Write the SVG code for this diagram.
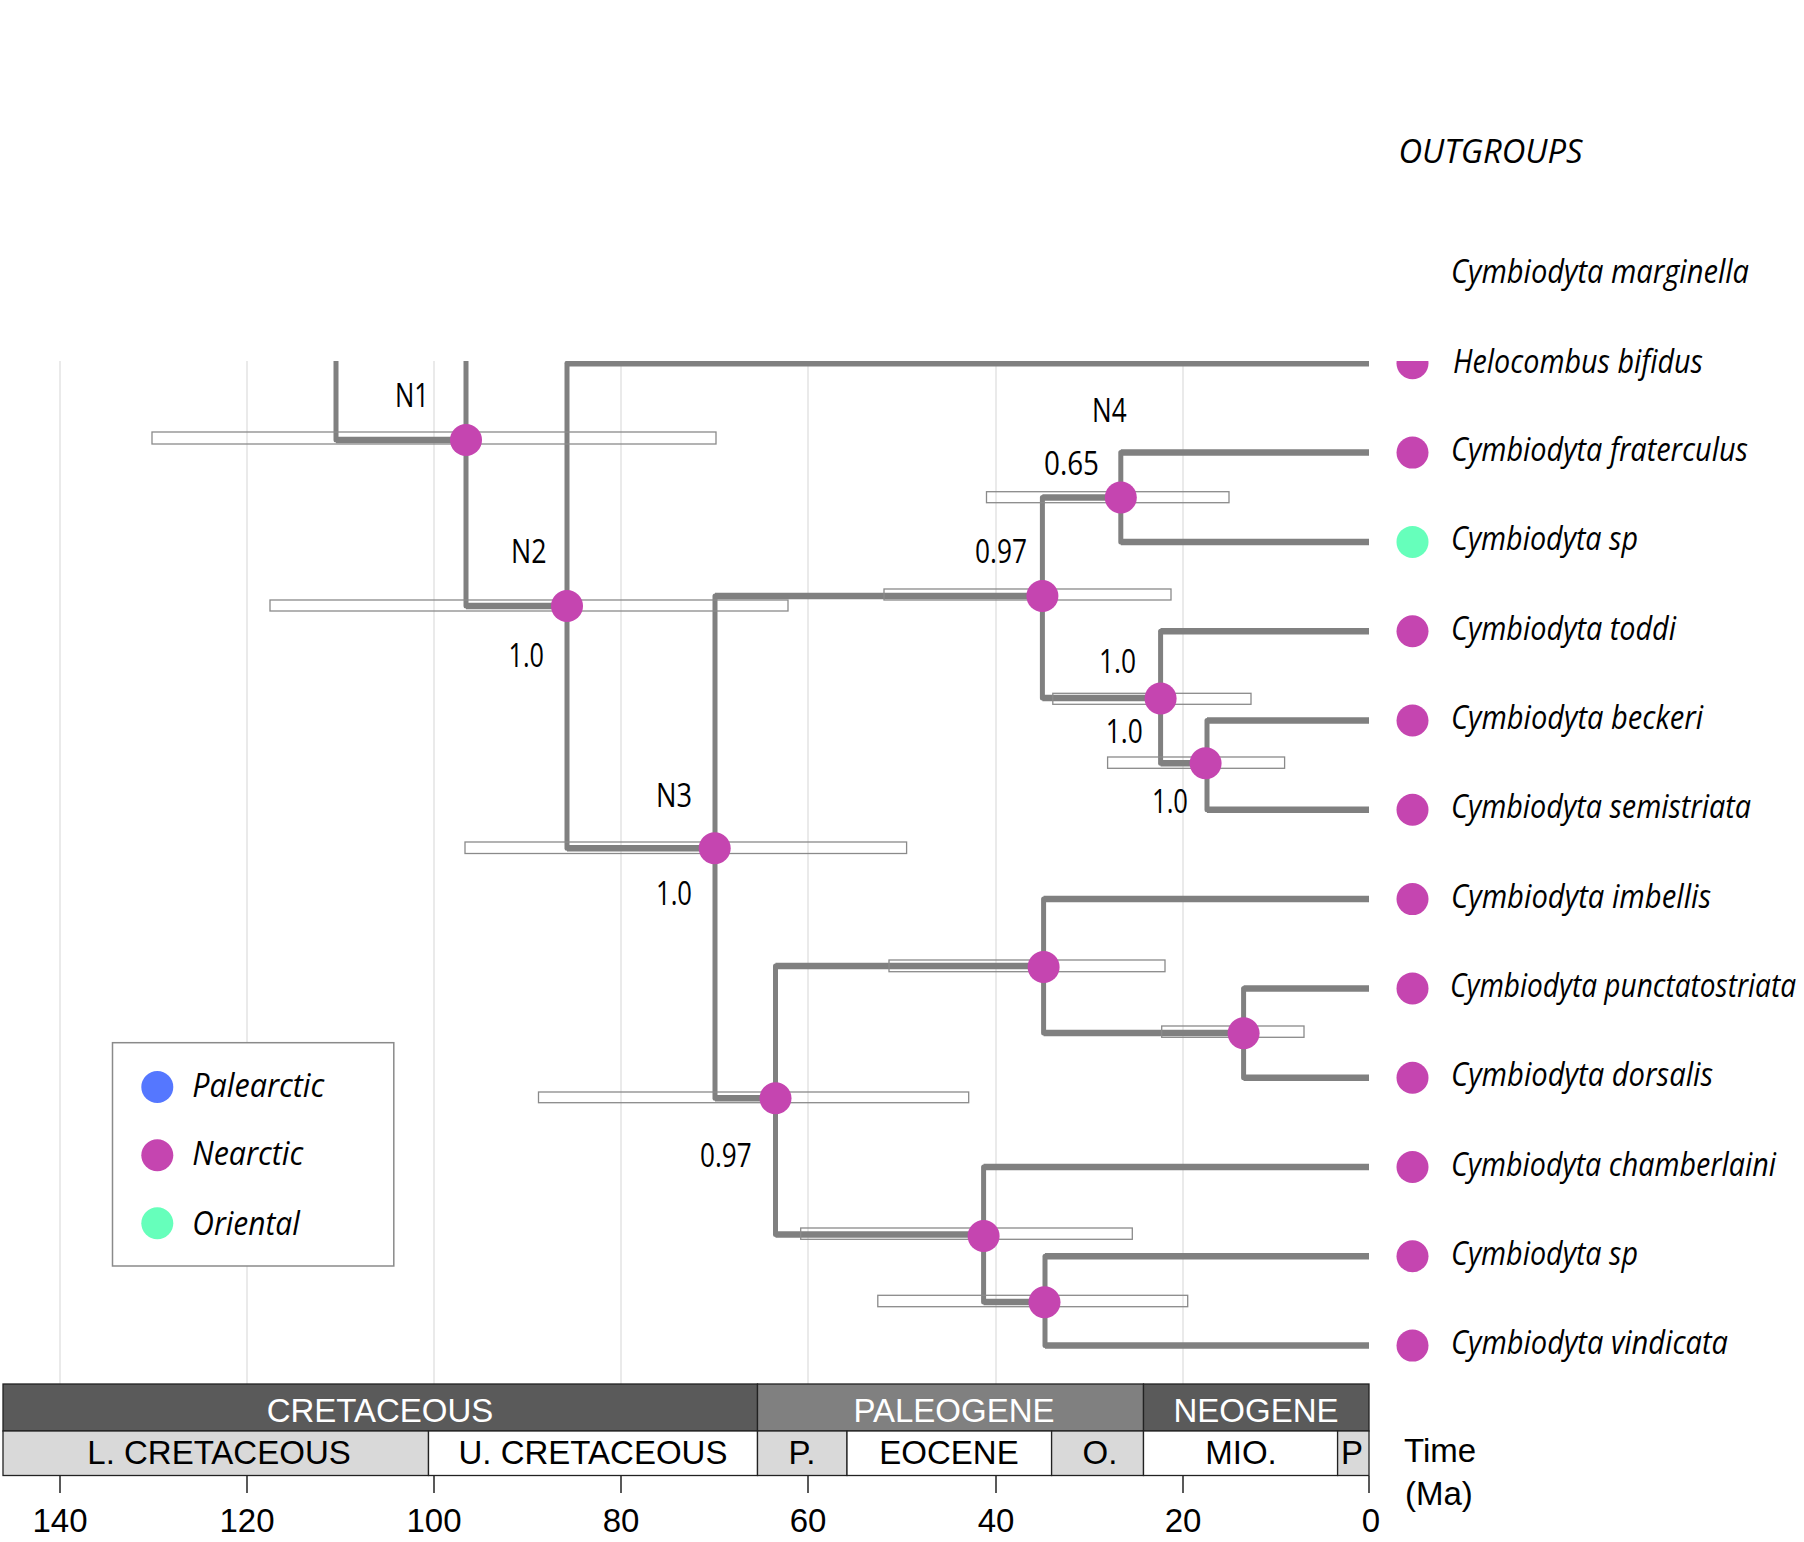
<svg xmlns="http://www.w3.org/2000/svg" width="1804" height="1542" viewBox="0 0 1804 1542">
<style>
.grid{stroke:#dcdcdc;stroke-width:1.2}
.v{stroke:#808080;stroke-width:5;stroke-linecap:round}
.h{stroke:#808080;stroke-width:6.5}
.ci{fill:none;stroke:#8a8a8a;stroke-width:1.3}
.ne{fill:#c545b0}
.pa{fill:#5577ff}
.or{fill:#66ffbb}
.sp{font-family:"Open Sans","Noto Sans",sans-serif;font-style:italic;font-size:33px;fill:#000}
.lb{font-family:"Open Sans","Noto Sans",sans-serif;font-size:32px;fill:#000}
.ts{font-family:"Liberation Sans",Arial,sans-serif;font-size:33px;text-anchor:middle}
.box{stroke:#222;stroke-width:1.3}
.tick{stroke:#222;stroke-width:1.5}
</style>
<defs>
<clipPath id="treeclip"><rect x="0" y="361" width="1804" height="1100"/></clipPath>
</defs>
<rect width="1804" height="1542" fill="#fff"/>

<g id="gridlines">
<line class="grid" x1="60" y1="361" x2="60" y2="1384"/>
<line class="grid" x1="247" y1="361" x2="247" y2="1384"/>
<line class="grid" x1="434" y1="361" x2="434" y2="1384"/>
<line class="grid" x1="621" y1="361" x2="621" y2="1384"/>
<line class="grid" x1="808" y1="361" x2="808" y2="1384"/>
<line class="grid" x1="996" y1="361" x2="996" y2="1384"/>
<line class="grid" x1="1183" y1="361" x2="1183" y2="1384"/>
</g>

<g id="connectors" clip-path="url(#treeclip)">
<line class="v" x1="336" y1="340" x2="336" y2="440"/>
<line class="h" x1="336" y1="440" x2="466" y2="440"/>
<line class="v" x1="466" y1="340" x2="466" y2="606"/>
<line class="h" x1="466" y1="606" x2="567" y2="606"/>
<line class="v" x1="567" y1="363.3" x2="567" y2="848.3"/>
<line class="h" x1="567" y1="363.3" x2="1369" y2="363.3"/>
<line class="h" x1="567" y1="848.3" x2="715" y2="848.3"/>
<line class="v" x1="715" y1="596" x2="715" y2="1098.3"/>
<line class="h" x1="715" y1="596" x2="1042.4" y2="596"/>
<line class="h" x1="715" y1="1098.3" x2="775.5" y2="1098.3"/>
<line class="v" x1="1042.4" y1="497.5" x2="1042.4" y2="698"/>
<line class="h" x1="1042.4" y1="497.5" x2="1120.8" y2="497.5"/>
<line class="h" x1="1042.4" y1="698" x2="1160.6" y2="698"/>
<line class="v" x1="1120.8" y1="452.6" x2="1120.8" y2="541.9"/>
<line class="h" x1="1120.8" y1="452.6" x2="1369" y2="452.6"/>
<line class="h" x1="1120.8" y1="541.9" x2="1369" y2="541.9"/>
<line class="v" x1="1160.6" y1="631.2" x2="1160.6" y2="763.3"/>
<line class="h" x1="1160.6" y1="631.2" x2="1369" y2="631.2"/>
<line class="h" x1="1160.6" y1="763.3" x2="1207" y2="763.3"/>
<line class="v" x1="1207" y1="720.5" x2="1207" y2="809.8"/>
<line class="h" x1="1207" y1="720.5" x2="1369" y2="720.5"/>
<line class="h" x1="1207" y1="809.8" x2="1369" y2="809.8"/>
<line class="v" x1="775.5" y1="966" x2="775.5" y2="1234.5"/>
<line class="h" x1="775.5" y1="966" x2="1043.6" y2="966"/>
<line class="h" x1="775.5" y1="1234.5" x2="983.6" y2="1234.5"/>
<line class="v" x1="1043.6" y1="899.1" x2="1043.6" y2="1033"/>
<line class="h" x1="1043.6" y1="899.1" x2="1369" y2="899.1"/>
<line class="h" x1="1043.6" y1="1033" x2="1243.6" y2="1033"/>
<line class="v" x1="1243.6" y1="988.4" x2="1243.6" y2="1077.7"/>
<line class="h" x1="1243.6" y1="988.4" x2="1369" y2="988.4"/>
<line class="h" x1="1243.6" y1="1077.7" x2="1369" y2="1077.7"/>
<line class="v" x1="983.6" y1="1167" x2="983.6" y2="1302"/>
<line class="h" x1="983.6" y1="1167" x2="1369" y2="1167"/>
<line class="h" x1="983.6" y1="1302" x2="1045" y2="1302"/>
<line class="v" x1="1045" y1="1256.3" x2="1045" y2="1345.6"/>
<line class="h" x1="1045" y1="1256.3" x2="1369" y2="1256.3"/>
<line class="h" x1="1045" y1="1345.6" x2="1369" y2="1345.6"/>
</g>

<g id="nodes" clip-path="url(#treeclip)">
<g id="N1"><rect class="ci" x="152" y="432" width="564" height="12"/><circle class="ne" cx="466" cy="440" r="16"/></g>
<g id="N2"><rect class="ci" x="270" y="600" width="518" height="11"/><circle class="ne" cx="567" cy="606" r="16"/></g>
<g id="N3"><rect class="ci" x="465" y="842" width="441.6" height="11.5"/><circle class="ne" cx="714.7" cy="848.3" r="16"/></g>
<g id="N5"><rect class="ci" x="884" y="589" width="287" height="11"/><circle class="ne" cx="1042.4" cy="596" r="16"/></g>
<g id="N4"><rect class="ci" x="986.5" y="491.7" width="242.5" height="11"/><circle class="ne" cx="1120.8" cy="497.5" r="16"/></g>
<g id="N6"><rect class="ci" x="1052.8" y="693.3" width="198.2" height="11"/><circle class="ne" cx="1160.6" cy="698.5" r="16"/></g>
<g id="N7"><rect class="ci" x="1107.6" y="757" width="177" height="11.3"/><circle class="ne" cx="1205.6" cy="763.3" r="16"/></g>
<g id="N8"><rect class="ci" x="538.5" y="1092" width="430.2" height="10.7"/><circle class="ne" cx="775.5" cy="1098.3" r="16"/></g>
<g id="N9"><rect class="ci" x="889" y="960" width="276" height="11.7"/><circle class="ne" cx="1043.6" cy="967" r="16"/></g>
<g id="N10"><rect class="ci" x="1161.7" y="1026" width="142.3" height="11.3"/><circle class="ne" cx="1243.6" cy="1033.3" r="16"/></g>
<g id="N11"><rect class="ci" x="800.7" y="1228" width="331.6" height="11.3"/><circle class="ne" cx="983.6" cy="1236" r="16"/></g>
<g id="N12"><rect class="ci" x="877.8" y="1295.3" width="309.9" height="11.4"/><circle class="ne" cx="1044.5" cy="1302.3" r="16"/></g>
<g id="tipdots">
<circle class="ne" cx="1412.5" cy="363.3" r="16"/>
<circle class="ne" cx="1412.5" cy="452.6" r="16"/>
<circle class="or" cx="1412.5" cy="541.9" r="16"/>
<circle class="ne" cx="1412.5" cy="631.2" r="16"/>
<circle class="ne" cx="1412.5" cy="720.5" r="16"/>
<circle class="ne" cx="1412.5" cy="809.8" r="16"/>
<circle class="ne" cx="1412.5" cy="899.1" r="16"/>
<circle class="ne" cx="1412.5" cy="988.4" r="16"/>
<circle class="ne" cx="1412.5" cy="1077.7" r="16"/>
<circle class="ne" cx="1412.5" cy="1167" r="16"/>
<circle class="ne" cx="1412.5" cy="1256.3" r="16"/>
<circle class="ne" cx="1412.5" cy="1345.6" r="16"/>
</g>
</g>

<g id="node-labels">
<text class="lb" x="395" y="406.7" textLength="34" lengthAdjust="spacingAndGlyphs">N1</text>
<text class="lb" x="511" y="563.3" textLength="35.5" lengthAdjust="spacingAndGlyphs">N2</text>
<text class="lb" x="508.6" y="667" textLength="35.4" lengthAdjust="spacingAndGlyphs">1.0</text>
<text class="lb" x="656" y="807" textLength="36" lengthAdjust="spacingAndGlyphs">N3</text>
<text class="lb" x="656" y="905" textLength="36" lengthAdjust="spacingAndGlyphs">1.0</text>
<text class="lb" x="1092" y="421.7" textLength="34.6" lengthAdjust="spacingAndGlyphs">N4</text>
<text class="lb" x="1044" y="475" textLength="55" lengthAdjust="spacingAndGlyphs">0.65</text>
<text class="lb" x="975" y="563" textLength="52" lengthAdjust="spacingAndGlyphs">0.97</text>
<text class="lb" x="1099" y="673" textLength="37" lengthAdjust="spacingAndGlyphs">1.0</text>
<text class="lb" x="1105.8" y="743" textLength="37" lengthAdjust="spacingAndGlyphs">1.0</text>
<text class="lb" x="1152" y="813" textLength="36" lengthAdjust="spacingAndGlyphs">1.0</text>
<text class="lb" x="700" y="1166.7" textLength="51.7" lengthAdjust="spacingAndGlyphs">0.97</text>
</g>

<g id="tip-labels">
<text class="sp" x="1398.5" y="163" textLength="184" lengthAdjust="spacingAndGlyphs">OUTGROUPS</text>
<text class="sp" x="1451" y="283" textLength="298" lengthAdjust="spacingAndGlyphs">Cymbiodyta marginella</text>
<text class="sp" x="1453" y="372.5" textLength="250" lengthAdjust="spacingAndGlyphs">Helocombus bifidus</text>
<text class="sp" x="1451" y="461" textLength="297" lengthAdjust="spacingAndGlyphs">Cymbiodyta fraterculus</text>
<text class="sp" x="1451" y="550.4" textLength="187" lengthAdjust="spacingAndGlyphs">Cymbiodyta sp</text>
<text class="sp" x="1451" y="639.7" textLength="225" lengthAdjust="spacingAndGlyphs">Cymbiodyta toddi</text>
<text class="sp" x="1451" y="729" textLength="252" lengthAdjust="spacingAndGlyphs">Cymbiodyta beckeri</text>
<text class="sp" x="1451" y="818.3" textLength="300" lengthAdjust="spacingAndGlyphs">Cymbiodyta semistriata</text>
<text class="sp" x="1451" y="907.6" textLength="260" lengthAdjust="spacingAndGlyphs">Cymbiodyta imbellis</text>
<text class="sp" x="1450" y="996.9" textLength="346" lengthAdjust="spacingAndGlyphs">Cymbiodyta punctatostriata</text>
<text class="sp" x="1451" y="1086.2" textLength="262" lengthAdjust="spacingAndGlyphs">Cymbiodyta dorsalis</text>
<text class="sp" x="1451" y="1175.5" textLength="325" lengthAdjust="spacingAndGlyphs">Cymbiodyta chamberlaini</text>
<text class="sp" x="1451" y="1264.8" textLength="187" lengthAdjust="spacingAndGlyphs">Cymbiodyta sp</text>
<text class="sp" x="1451" y="1354.1" textLength="277" lengthAdjust="spacingAndGlyphs">Cymbiodyta vindicata</text>
</g>

<g id="legend">
<rect x="112.5" y="1042.7" width="281.3" height="223.3" fill="#fff" stroke="#8a8a8a" stroke-width="1.5"/>
<circle class="pa" cx="157.3" cy="1087" r="16"/>
<circle class="ne" cx="157.3" cy="1155.3" r="16"/>
<circle class="or" cx="157.3" cy="1223.3" r="16"/>
<text class="sp" x="192.3" y="1096.7" textLength="132" lengthAdjust="spacingAndGlyphs">Palearctic</text>
<text class="sp" x="192.3" y="1165" textLength="111" lengthAdjust="spacingAndGlyphs">Nearctic</text>
<text class="sp" x="192.3" y="1235" textLength="107.5" lengthAdjust="spacingAndGlyphs">Oriental</text>
</g>

<g id="timescale">
<rect class="box" x="3" y="1384" width="754.5" height="47" fill="#5a5a5a"/>
<rect class="box" x="757.5" y="1384" width="386" height="47" fill="#808080"/>
<rect class="box" x="1143.5" y="1384" width="225.5" height="47" fill="#5a5a5a"/>
<rect class="box" x="3" y="1431" width="425.5" height="44.5" fill="#d9d9d9"/>
<rect class="box" x="428.5" y="1431" width="329" height="44.5" fill="#fff"/>
<rect class="box" x="757.5" y="1431" width="89.5" height="44.5" fill="#d9d9d9"/>
<rect class="box" x="847" y="1431" width="204.6" height="44.5" fill="#fff"/>
<rect class="box" x="1051.6" y="1431" width="91.9" height="44.5" fill="#d9d9d9"/>
<rect class="box" x="1143.5" y="1431" width="194.1" height="44.5" fill="#fff"/>
<rect class="box" x="1337.6" y="1431" width="31.4" height="44.5" fill="#d9d9d9"/>
<text class="ts" x="380" y="1421.7" fill="#fff">CRETACEOUS</text>
<text class="ts" x="954" y="1421.7" fill="#fff">PALEOGENE</text>
<text class="ts" x="1256" y="1421.7" fill="#fff">NEOGENE</text>
<text class="ts" x="219" y="1464.3" fill="#000">L. CRETACEOUS</text>
<text class="ts" x="593" y="1464.3" fill="#000">U. CRETACEOUS</text>
<text class="ts" x="802" y="1464.3" fill="#000">P.</text>
<text class="ts" x="949" y="1464.3" fill="#000">EOCENE</text>
<text class="ts" x="1100" y="1464.3" fill="#000">O.</text>
<text class="ts" x="1241" y="1464.3" fill="#000">MIO.</text>
<text class="ts" x="1352" y="1464.3" fill="#000">P</text>
</g>

<g id="axis">
<line class="tick" x1="60" y1="1476" x2="60" y2="1493"/>
<line class="tick" x1="247" y1="1476" x2="247" y2="1493"/>
<line class="tick" x1="434" y1="1476" x2="434" y2="1493"/>
<line class="tick" x1="621" y1="1476" x2="621" y2="1493"/>
<line class="tick" x1="808" y1="1476" x2="808" y2="1493"/>
<line class="tick" x1="996" y1="1476" x2="996" y2="1493"/>
<line class="tick" x1="1183" y1="1476" x2="1183" y2="1493"/>
<line class="tick" x1="1369" y1="1476" x2="1369" y2="1493"/>
<text class="ts" x="60" y="1531.7" fill="#000">140</text>
<text class="ts" x="247" y="1531.7" fill="#000">120</text>
<text class="ts" x="434" y="1531.7" fill="#000">100</text>
<text class="ts" x="621" y="1531.7" fill="#000">80</text>
<text class="ts" x="808" y="1531.7" fill="#000">60</text>
<text class="ts" x="996" y="1531.7" fill="#000">40</text>
<text class="ts" x="1183" y="1531.7" fill="#000">20</text>
<text class="ts" x="1371" y="1531.7" fill="#000">0</text>
<text x="1404" y="1461.7" font-family="Liberation Sans, Arial, sans-serif" font-size="33" fill="#000">Time</text>
<text x="1405" y="1505" font-family="Liberation Sans, Arial, sans-serif" font-size="33" fill="#000">(Ma)</text>
</g>
</svg>
